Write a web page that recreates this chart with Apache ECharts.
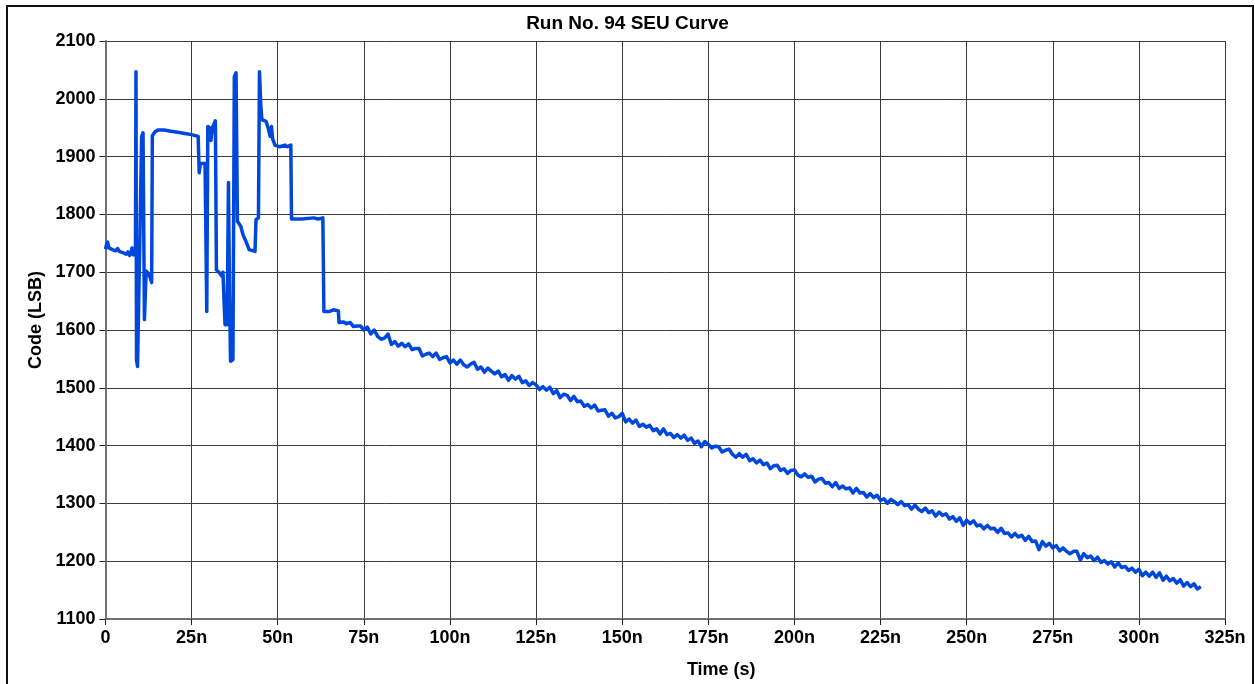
<!DOCTYPE html>
<html>
<head>
<meta charset="utf-8">
<title>Run No. 94 SEU Curve</title>
<script src="https://cdn.jsdelivr.net/npm/echarts@6/dist/echarts.min.js"></script>
<style>
  html, body { margin: 0; padding: 0; background: #ffffff; }
  #chart { width: 1255px; height: 684px; }
</style>
</head>
<body>
<div id="chart"></div>
<script>
// Axis ticks (time in ns, code in LSB)
const timeTicks = [0, 25, 50, 75, 100, 125, 150, 175, 200, 225, 250, 275, 300, 325];
const codeTicks = [1100, 1200, 1300, 1400, 1500, 1600, 1700, 1800, 1900, 2000, 2100];

// Upset burst at the start of the run: [time ns, code LSB]
const burstSamples = [
  [0, 1740], [0.3, 1748], [0.6, 1752], [1, 1742], [1.5, 1745], [2, 1739], [2.5, 1742],
  [3, 1737], [3.5, 1741], [4, 1736], [4.5, 1739], [5, 1734], [5.5, 1737], [6, 1731],
  [6.5, 1735], [7, 1729], [7.4, 1733], [7.7, 1742], [8.1, 1730], [8.4, 1728], [8.7, 1740],
  [8.85, 2047], [9.0, 1548], [9.3, 1537], [9.7, 1540], [10.5, 1935], [10.9, 1941],
  [11.3, 1618], [11.8, 1702], [12.4, 1698], [12.9, 1692], [13.4, 1682], [13.6, 1936],
  [14.4, 1943], [15.2, 1946], [17, 1946], [19, 1944], [21, 1942], [23, 1940], [25, 1938],
  [26.9, 1935], [27.2, 1872], [27.5, 1888], [28.9, 1888], [29.4, 1632], [29.7, 1952],
  [30.3, 1950], [30.6, 1928], [31.1, 1951], [31.9, 1962], [32.2, 1704], [33.2, 1698],
  [33.8, 1693], [34.1, 1700], [34.4, 1653], [34.7, 1609], [35.3, 1609], [35.7, 1855],
  [36.0, 1665], [36.3, 1546], [37.0, 1549], [37.4, 2038], [37.9, 2045], [38.3, 1788],
  [39.3, 1779], [39.9, 1765], [40.8, 1753], [41.7, 1739], [43.4, 1736], [43.7, 1791],
  [44.4, 1794], [44.7, 2047], [45.1, 1987], [45.4, 1964], [46.6, 1961], [47.2, 1950],
  [47.8, 1935], [48.2, 1952], [48.5, 1931], [49.2, 1920], [50.6, 1917], [52.1, 1920],
  [52.7, 1917], [53.8, 1920], [54.0, 1792], [57, 1792], [60.5, 1794], [61.7, 1792],
  [63.1, 1794], [63.4, 1632], [65, 1632], [66.2, 1635], [67.6, 1633], [67.8, 1613]
];

// Slow decay after the burst: [time ns, code LSB]
const decaySamples = [
  [68, 1613], [69, 1614], [70, 1611], [71, 1613], [72, 1606], [73, 1607], [74, 1607], [75, 1600], [76, 1605], [77, 1593],
  [78, 1600], [79, 1589], [80, 1584], [81, 1586], [82, 1593], [83, 1575], [84, 1580], [85, 1572], [86, 1577], [87, 1571],
  [88, 1576], [89, 1566], [90, 1568], [91, 1568], [92, 1555], [93, 1558], [94, 1560], [95, 1554], [96, 1560], [97, 1549],
  [98, 1552], [99, 1554], [100, 1543], [101, 1548], [102, 1541], [103, 1548], [104, 1540], [105, 1536], [106, 1541], [107, 1544],
  [108, 1532], [109, 1536], [110, 1527], [111, 1534], [112, 1529], [113, 1524], [114, 1529], [115, 1519], [116, 1523], [117, 1513],
  [118, 1521], [119, 1515], [120, 1520], [121, 1509], [122, 1512], [123, 1504], [124, 1509], [125, 1505], [126, 1497], [127, 1502],
  [128, 1496], [129, 1501], [130, 1490], [131, 1495], [132, 1483], [133, 1489], [134, 1487], [135, 1478], [136, 1485], [137, 1476],
  [138, 1477], [139, 1468], [140, 1471], [141, 1465], [142, 1470], [143, 1460], [144, 1461], [145, 1462], [146, 1451], [147, 1456],
  [148, 1448], [149, 1450], [150, 1456], [151, 1441], [152, 1446], [153, 1439], [154, 1444], [155, 1433], [156, 1437], [157, 1432],
  [158, 1435], [159, 1426], [160, 1429], [161, 1420], [162, 1429], [163, 1419], [164, 1421], [165, 1414], [166, 1419], [167, 1413],
  [168, 1418], [169, 1409], [170, 1413], [171, 1404], [172, 1408], [173, 1398], [174, 1407], [175, 1402], [176, 1396], [177, 1399],
  [178, 1398], [179, 1389], [180, 1392], [181, 1394], [182, 1385], [183, 1380], [184, 1386], [185, 1380], [186, 1385], [187, 1374],
  [188, 1377], [189, 1370], [190, 1375], [191, 1367], [192, 1370], [193, 1360], [194, 1365], [195, 1366], [196, 1357], [197, 1360],
  [198, 1352], [199, 1357], [200, 1358], [201, 1349], [202, 1346], [203, 1351], [204, 1345], [205, 1347], [206, 1337], [207, 1342],
  [208, 1343], [209, 1335], [210, 1336], [211, 1329], [212, 1336], [213, 1326], [214, 1330], [215, 1325], [216, 1327], [217, 1318],
  [218, 1326], [219, 1318], [220, 1319], [221, 1311], [222, 1317], [223, 1310], [224, 1314], [225, 1305], [226, 1308], [227, 1300],
  [228, 1307], [229, 1303], [230, 1298], [231, 1303], [232, 1296], [233, 1298], [234, 1290], [235, 1297], [236, 1290], [237, 1286],
  [238, 1292], [239, 1284], [240, 1287], [241, 1278], [242, 1285], [243, 1279], [244, 1282], [245, 1273], [246, 1277], [247, 1269],
  [248, 1275], [249, 1262], [250, 1271], [251, 1265], [252, 1270], [253, 1261], [254, 1263], [255, 1256], [256, 1262], [257, 1256],
  [258, 1257], [259, 1250], [260, 1257], [261, 1248], [262, 1249], [263, 1242], [264, 1248], [265, 1242], [266, 1245], [267, 1236],
  [268, 1243], [269, 1234], [270, 1235], [271, 1220], [272, 1234], [273, 1226], [274, 1231], [275, 1223], [276, 1227], [277, 1218],
  [278, 1223], [279, 1217], [280, 1213], [281, 1217], [282, 1217], [283, 1202], [284, 1213], [285, 1206], [286, 1209], [287, 1201],
  [288, 1207], [289, 1198], [290, 1201], [291, 1195], [292, 1199], [293, 1190], [294, 1197], [295, 1189], [296, 1191], [297, 1184],
  [298, 1188], [299, 1181], [300, 1186], [301, 1175], [302, 1181], [303, 1174], [304, 1181], [305, 1172], [306, 1180], [307, 1167],
  [308, 1174], [309, 1166], [310, 1170], [311, 1162], [312, 1168], [313, 1157], [314, 1163], [315, 1156], [316, 1161], [317, 1152],
  [318, 1156]
];

const labelFont = "'Liberation Sans', Arial, sans-serif";
const gridColor = '#3c3c3c';

const chart = echarts.init(document.getElementById('chart'), null, { renderer: 'canvas' });

chart.setOption({
  animation: false,
  backgroundColor: '#ffffff',
  title: {
    text: 'Run No. 94 SEU Curve',
    left: 'center',
    top: 9,
    textStyle: { fontFamily: labelFont, fontWeight: 'bold', fontSize: 19, color: '#000' }
  },
  graphic: [{
    type: 'rect',
    shape: { x: 7, y: 6, width: 1246, height: 700 },
    style: { fill: 'none', stroke: '#111', lineWidth: 2 },
    silent: true
  }],
  grid: { left: 105.5, right: 30, top: 41, bottom: 64, containLabel: false },
  xAxis: {
    type: 'value',
    min: timeTicks[0],
    max: timeTicks[timeTicks.length - 1],
    interval: 25,
    name: 'Time (s)',
    nameLocation: 'middle',
    nameGap: 42,
    nameTextStyle: { fontFamily: labelFont, fontWeight: 'bold', fontSize: 18, color: '#000', padding: [0, 0, 0, 112] },
    axisLine: { show: true, lineStyle: { color: '#707070', width: 2 } },
    axisTick: { show: true, length: 6, lineStyle: { color: '#222', width: 1 } },
    axisLabel: {
      margin: 10,
      fontFamily: labelFont, fontWeight: 'bold', fontSize: 18, color: '#000',
      formatter: v => (v === 0 ? '0' : v + 'n')
    },
    splitLine: { show: true, lineStyle: { color: gridColor, width: 1 } }
  },
  yAxis: {
    type: 'value',
    min: codeTicks[0],
    max: codeTicks[codeTicks.length - 1],
    interval: 100,
    name: 'Code (LSB)',
    nameLocation: 'middle',
    nameRotate: 90,
    nameGap: 55,
    nameTextStyle: { fontFamily: labelFont, fontWeight: 'bold', fontSize: 18, color: '#000', padding: [0, 0, 0, 20] },
    axisLine: { show: true, lineStyle: { color: '#707070', width: 2 } },
    axisTick: { show: true, length: 6, lineStyle: { color: '#222', width: 1 } },
    axisLabel: {
      margin: 10, fontFamily: labelFont, fontWeight: 'bold', fontSize: 18, color: '#000',
      formatter: v => String(v)
    },
    splitLine: { show: true, lineStyle: { color: gridColor, width: 1 } }
  },
  series: [{
    type: 'line',
    data: burstSamples.concat(decaySamples),
    showSymbol: false,
    symbol: 'none',
    lineStyle: { color: '#0048dc', width: 3.5, join: 'round' },
    itemStyle: { color: '#0048dc' },
    clip: true
  }]
});
</script>
</body>
</html>
